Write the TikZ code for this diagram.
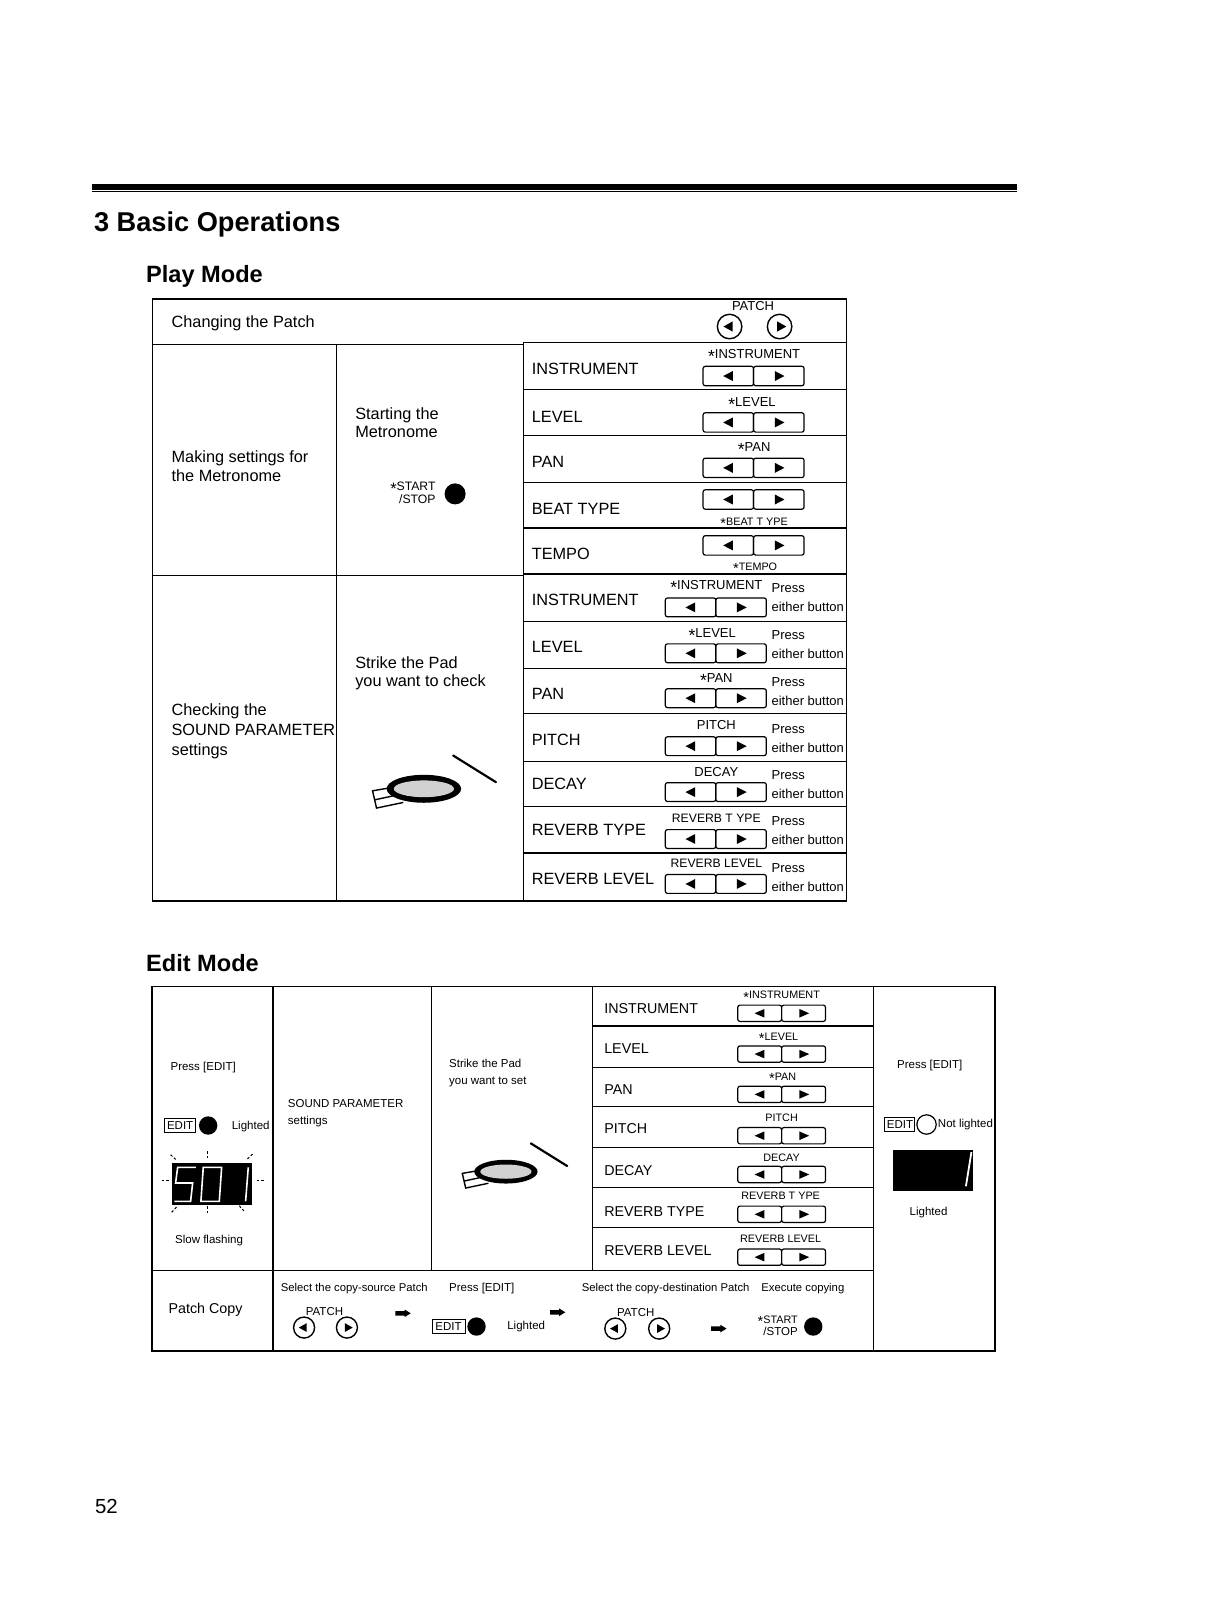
\documentclass[tikz,border=0pt]{standalone}
\usepackage{fontspec}
\setmainfont{Liberation Sans}
\newcommand\st{\raisebox{-.3em}{\scalebox{1.35}{*}}}
\tikzset{
  rule/.style={line width=1.2pt,black},
  btn/.style={line width=1.2pt,rounded corners=2.2pt,black},
  base/.style={inner sep=0pt,text depth=0pt,anchor=west,black},
  tH/.style={base,font=\bfseries\fontsize{27.2}{27}\selectfont,text height=19.5pt},
  tM/.style={base,font=\bfseries\fontsize{23.6}{24}\selectfont,text height=17pt},
  tA/.style={base,font=\fontsize{16.3}{16}\selectfont,text height=11.7pt},
  tB/.style={base,font=\fontsize{14.3}{14}\selectfont,text height=10.3pt},
  tC/.style={base,font=\fontsize{13}{13}\selectfont,text height=9.3pt},
  tD/.style={base,font=\fontsize{11.5}{11}\selectfont,text height=8.2pt},
  tE/.style={base,font=\fontsize{10.8}{11}\selectfont,text height=7.8pt},
  tF/.style={base,font=\fontsize{12.2}{12}\selectfont,text height=8.8pt},
  tG/.style={base,font=\fontsize{11.3}{11}\selectfont,text height=8.1pt},
  cC/.style={tC,anchor=center},
  cD/.style={tD,anchor=center},
  cE/.style={tE,anchor=center},
  cF/.style={tF,anchor=center},
}
\newcommand\btnpair[4]{%
  \draw[btn] (#1,#2) rectangle ++(#3,#4);
  \draw[btn] (#1+#3,#2) rectangle ++(#3,#4);
  \fill[black] (#1+#3/2-5,#2+#4/2) -- ++(9.5,-#4*.26) -- ++(0,#4*.52) -- cycle;
  \fill[black] (#1+#3*1.5+5.5,#2+#4/2) -- ++(-9.5,-#4*.26) -- ++(0,#4*.52) -- cycle;
}
\newcommand\circL[3]{%
  \draw[line width=1.4pt] (#1,#2) circle (#3);
  \fill[black] (#1-#3*.5,#2) -- ++(#3*.75,-#3*.42) -- ++(0,#3*.84) -- cycle;
}
\newcommand\circR[3]{%
  \draw[line width=1.4pt] (#1,#2) circle (#3);
  \fill[black] (#1+#3*.55,#2) -- ++(-#3*.75,-#3*.42) -- ++(0,#3*.84) -- cycle;
}
\newcommand\blk[2]{%
  \fill[black] (#1,#2-2.2) -- ++(9,0) -- ++(0,-1.5) -- ++(6,3.7) -- ++(-6,3.7) -- ++(0,-1.5) -- ++(-9,0) -- cycle;
}
\newcommand\padicon[3]{%
  \begin{scope}[shift={(#1,#2)},scale=#3]
    \draw[line width=1.4pt,line join=miter] (-20.2,13.4) -- (-46.4,18.9) -- (-50.3,2) -- (-30,-1.5);
    \draw[line width=1.4pt] (-48,10.8) -- (-30,6.9);
    \fill[black] (0,0) ellipse (36.5 and 13.7);
    \fill[black!18] (0,0) ellipse (29.5 and 8.2);
    \draw[line width=2.2pt,line cap=round] (28.7,-32.6) -- (70.6,-6.5);
  \end{scope}
}
\newcommand\edbox[3]{%
  \draw[line width=1pt] (#1,#2) rectangle ++(#3,13.5);
}
\begin{document}
\begin{tikzpicture}[x=1.0207pt,y=-1.0207pt]
\useasboundingbox (0,0) rectangle (1206,1568);
\fill[white] (0,0) rectangle (1206,1568);
% top rule
\fill[black] (90,180) rectangle (997,186);
\fill[black] (90,187.3) rectangle (997,188.6);
\node[tH] (title) at (92,217.3) {3 Basic Operations};
\node[tM] (play) at (143,269) {Play Mode};
\node[tM] (edit) at (143,944) {Edit Mode};
\node[base,font=\fontsize{20.4}{20}\selectfont,text height=14.6pt] (page) at (93,1476) {52};

% ---- Play mode table
\draw[rule] (149.5,293) rectangle (829.5,883);
\draw[rule] (149.5,337.5) -- (513,337.5) -- (513,336) -- (829.5,336);
\draw[rule] (149.5,564) -- (513,564) -- (513,562.5) -- (829.5,562.5);
\draw[rule] (329.5,337.5) -- (329.5,883);
\draw[rule] (513,336) -- (513,883);
\foreach \y in {382,427,473,517.5,609,655,699,746,790,836}
  {\draw[rule] (513,\y) -- (829.5,\y);}

\node[tA] (pa) at (168,315) {Changing the Patch};
\node[cC] (pb) at (738,300) {PATCH};
\circL{715}{320}{12}
\circR{764}{320}{12}
\node[tA] (pc1) at (168,447.5) {Making settings for};
\node[tA] (pc2) at (168,466.5) {the Metronome};
\node[tA] (pd1) at (348,405.5) {Starting the};
\node[tA] (pd2) at (348,423.5) {Metronome};
\node[tF,anchor=east] (pe1) at (427,476.8) {\st START};
\node[tF,anchor=east] (pe2) at (427,489) {/STOP};
\fill[black] (446,484) circle (10.3);
\node[tA] (pf1) at (348,649.5) {Strike the Pad};
\node[tA] (pf2) at (348,667.5) {you want to check};
\node[tA] (pg1) at (168,695.5) {Checking the};
\node[tA] (pg2) at (168,715) {SOUND PARAMETER};
\node[tA] (pg3) at (168,734.5) {settings};
\padicon{415.4}{773}{1}

\foreach \i/\t/\y in {1/INSTRUMENT/361.5,2/LEVEL/408,3/PAN/452.5,4/BEAT TYPE/498.5,5/TEMPO/543}
  {\node[tA] (ua\i) at (521,\y) {\t};}
\node[cC] (ub1) at (739,347) {\st INSTRUMENT};
\node[cC] (ub2) at (737,394) {\st LEVEL};
\node[cC] (ub3) at (739,438) {\st PAN};
\node[tE,anchor=center] (ub4) at (739,511) {\st BEAT T YPE};
\node[tE,anchor=center] (ub5) at (740,555) {\st TEMPO};
\foreach \y in {359,404.5,449,480,525}
  {\btnpair{689}{\y}{49.5}{19}}

\foreach \i/\t/\y in {1/INSTRUMENT/588,2/LEVEL/634,3/PAN/680,4/PITCH/725,5/DECAY/768,6/REVERB TYPE/813,7/REVERB LEVEL/861}
  {\node[tA] (la\i) at (521,\y) {\t};}
\node[cC] (lb1) at (702,573) {\st INSTRUMENT};
\node[cC] (lb2) at (698,620) {\st LEVEL};
\node[cC] (lb3) at (702,664) {\st PAN};
\node[cC] (lb4) at (702,710) {PITCH};
\node[cC] (lb5) at (702,756) {DECAY};
\node[cF] (lb6) at (702,802) {REVERB T YPE};
\node[cF] (lb7) at (702,846) {REVERB LEVEL};
\foreach \i/\y in {1/576,2/622,3/668,4/714,5/759,6/804,7/850}
  {\node[tC] (lp\i) at (756,\y) {Press};}
\foreach \i/\y in {1/595,2/641,3/687,4/733,5/778,6/823,7/869}
  {\node[tC] (le\i) at (756,\y) {either button};}
\foreach \y in {586,631,675,722,767,813,857}
  {\btnpair{652}{\y}{49.5}{18.5}}

% ---- Edit mode table
\draw[rule] (149,967) rectangle (975,1324);
\draw[rule] (149,1245) -- (856,1245);
\draw[rule] (267.5,967) -- (267.5,1324);
\draw[rule] (423,967) -- (423,1245);
\draw[rule] (581,967) -- (581,1245);
\draw[rule] (856,967) -- (856,1324);
\foreach \y in {1005.5,1046,1084.5,1124.5,1164,1203}
  {\draw[rule] (581,\y) -- (856,\y);}

\node[tD] (ea) at (167,1045) {Press [EDIT]};
\edbox{161}{1096}{31}
\node[tD] (eb) at (163.5,1103) {EDIT};
\fill[black] (204,1103) circle (9);
\node[tD] (ec) at (227,1103) {Lighted};
% flashing display
\fill[black] (168.5,1140) rectangle (247,1180.6);
\draw[white,line width=1.6pt,line join=miter] (192,1144) -- (174.1,1144) -- (172.1,1159.3) -- (188.8,1159.3) -- (186.8,1177.3) -- (170.8,1177.3);
\draw[white,line width=1.6pt] (199.2,1144) -- (217.2,1144) -- (214.9,1177.3) -- (196.9,1177.3) -- cycle;
\draw[white,line width=1.6pt] (243.3,1144) -- (240.7,1177.3);
\foreach \a/\b/\c/\d in {203.5/1128/203.5/1136,167.2/1131.6/173.1/1137.1,247.5/1131/241.7/1136.5,158.4/1156.4/165.9/1156.4,251.5/1156.4/258.7/1156.4,168.2/1188/173.7/1182.2,203.1/1182.2/203.1/1190.4,234.5/1181.6/240/1187.8}
  {\draw[line width=1pt,dash pattern=on 2.5pt off 2pt] (\a,\b) -- (\c,\d);}
\node[tD] (ed) at (171.5,1215) {Slow flashing};
\node[tD] (ee1) at (282,1081) {SOUND PARAMETER};
\node[tD] (ee2) at (282,1098) {settings};
\node[tD] (ef1) at (440,1042) {Strike the Pad};
\node[tD] (ef2) at (440,1059) {you want to set};
\padicon{495.8}{1148.2}{.85}

\foreach \i/\t/\y in {1/INSTRUMENT/988.5,2/LEVEL/1027,3/PAN/1067.5,4/PITCH/1106,5/DECAY/1146.5,6/REVERB TYPE/1187,7/REVERB LEVEL/1225}
  {\node[tB] (ra\i) at (592,\y) {\t};}
\node[cE] (rb1) at (766,975) {\st INSTRUMENT};
\node[cE] (rb2) at (763,1016) {\st LEVEL};
\node[cE] (rb3) at (767,1055) {\st PAN};
\node[cE] (rb4) at (766,1095) {PITCH};
\node[cE] (rb5) at (766,1134) {DECAY};
\node[cE] (rb6) at (765,1172) {REVERB T YPE};
\node[cE] (rb7) at (765,1214) {REVERB LEVEL};
\foreach \y in {985,1025,1064.5,1105,1143,1182,1224}
  {\btnpair{723}{\y}{43}{16}}

\node[tD] (ra) at (879,1043) {Press [EDIT]};
\edbox{867}{1095}{29}
\node[tD] (rb) at (869,1101.8) {EDIT};
\draw[line width=1.2pt] (908,1102) circle (9.5);
\node[tD] (rc) at (919,1101) {Not lighted};
\fill[black] (875,1126.5) rectangle (954,1167);
\draw[white,line width=1.8pt] (952,1129) -- (946.6,1162.5);
\node[cD] (rd) at (910,1187) {Lighted};

% Patch copy row
\node[tB] (ca) at (165,1282) {Patch Copy};
\node[tG] (cb) at (275,1262) {Select the copy-source Patch};
\node[tD] (cc) at (440,1262) {Press [EDIT]};
\node[tG] (cd) at (570,1262) {Select the copy-destination Patch};
\node[tG] (ce) at (746,1262) {Execute copying};
\node[cD] (cf) at (318,1285) {PATCH};
\circL{298}{1301}{10.3}
\circR{340}{1301}{10.3}
\blk{387.5}{1287}
\edbox{424}{1293}{32}
\node[tD] (cg) at (426.5,1300) {EDIT};
\fill[black] (467,1300) circle (9);
\node[tD] (ch) at (497,1299) {Lighted};
\blk{539}{1286}
\node[cD] (ci) at (623,1286) {PATCH};
\circL{603}{1302}{10.3}
\circR{646}{1302}{10.3}
\blk{697}{1302}
\node[tE,anchor=east] (cj) at (782,1293.3) {\st START};
\node[tD,anchor=east] (ck) at (782,1304.5) {/STOP};
\fill[black] (797,1300) circle (9);
\end{tikzpicture}
\end{document}
